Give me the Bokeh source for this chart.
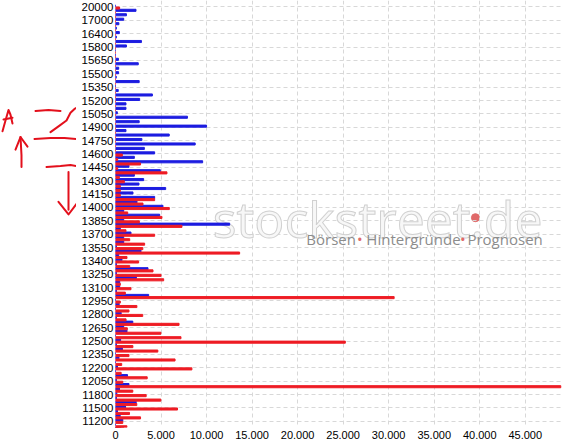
from bokeh.plotting import figure
from bokeh.models import Range1d, FixedTicker, ColumnDataSource, Label
from bokeh.layouts import row
from bokeh.transform import dodge
from bokeh.embed import file_html
from bokeh.resources import INLINE

# strike prices, top to bottom
strikes = [20000, 19000, 18000, 17000, 16800, 16600, 16400, 16200, 16000,
           15800, 15750, 15700, 15650, 15600, 15550, 15500, 15450, 15400, 15350,
           15300, 15250, 15200, 15150, 15100, 15050, 15000, 14950, 14900, 14850,
           14800, 14750, 14700, 14650, 14600, 14550, 14500, 14450, 14400, 14350,
           14300, 14250, 14200, 14150, 14100, 14050, 14000, 13950, 13900, 13850,
           13800, 13750, 13700, 13650, 13600, 13550, 13500, 13450, 13400, 13350,
           13300, 13250, 13200, 13150, 13100, 13050, 13000, 12950, 12900, 12850,
           12800, 12750, 12700, 12650, 12600, 12550, 12500, 12450, 12400, 12350,
           12300, 12250, 12200, 12150, 12100, 12050, 12000, 11900, 11800, 11700,
           11600, 11500, 11400, 11300, 11200, 11100, 11000, 10000]

# blue series (calls)
calls = [0, 2250, 1200, 900, 370, 90, 420, 90, 2850,
         1200, 0, 0, 320, 2500, 350, 340, 80, 2600, 0,
         300, 4050, 2650, 1150, 1150, 200, 7900, 2600, 10000, 1150,
         5900, 2900, 8750, 3170, 4300, 2070, 9570, 1480, 4920, 2070,
         3090, 2580, 5510, 1920, 4300, 2360, 5210, 900, 4850, 900,
         12540, 530, 1700, 900, 900, 100, 2800, 350, 710, 100,
         3570, 100, 2290, 460, 460, 100, 3640, 0, 400, 0,
         620, 100, 1900, 900, 1260, 0, 560, 100, 760, 0,
         380, 0, 220, 0, 1320, 100, 1480, 440, 150, 100,
         2270, 1100, 220, 510, 800, 0, 300, 0]

# red series (puts)
puts = [450, 0, 0, 0, 0, 0, 0, 0, 0,
        0, 0, 0, 0, 0, 0, 0, 0, 0, 0,
        0, 0, 0, 0, 0, 0, 0, 0, 0, 0,
        0, 0, 0, 0, 750, 240, 2750, 240, 5650, 420,
        970, 530, 530, 530, 4300, 3020, 5910, 1340, 5100, 2620,
        7300, 1150, 4300, 1560, 3200, 3000, 13630, 1260, 2540, 1560,
        4120, 5000, 5290, 530, 1700, 1080, 30600, 530, 2350, 1480,
        2990, 1160, 6980, 1300, 4990, 7190, 25240, 1910, 4650, 1480,
        6540, 680, 8390, 620, 3480, 800, 48900, 1900, 3370, 4980,
        2340, 6810, 1540, 2750, 800, 1250, 900, 600]

x_ticks = [0, 5000, 10000, 15000, 20000, 25000, 30000, 35000, 40000, 45000]

idx = list(range(len(strikes)))
src = ColumnDataSource(data=dict(k=idx, strike=strikes, calls=calls, puts=puts))

LEFT_W = 76
p = figure(width=577 - LEFT_W, height=441, output_backend="svg", toolbar_location=None,
           x_range=Range1d(0, 49200), y_range=Range1d(start=94.4, end=-1.45),
           min_border_left=115 - LEFT_W, min_border_right=14, min_border_top=0,
           min_border_bottom=2, outline_line_color=None, background_fill_color="white")

# watermark (behind bars)
p.add_layout(Label(x=46890, y=47.6, text="stockstreet.de", text_align="right",
                   text_baseline="alphabetic", text_font="Open Sans", text_font_size="50px",
                   text_color="#f7f7f7", text_outline_color="#d0d0d0", level="underlay"))
p.scatter(x=[39530], y=[47.3], size=8, color="#e06a6a", level="underlay")
for txt, xv, col, align in [("Börsen", 20960, "#8c8c8c", "left"),
                            ("•", 26840, "#e06a6a", "center"),
                            ("Hintergründe", 27550, "#8c8c8c", "left"),
                            ("•", 38150, "#e06a6a", "center"),
                            ("Prognosen", 38650, "#8c8c8c", "left")]:
    p.add_layout(Label(x=xv, y=52.1, text=txt, text_align=align, text_baseline="middle",
                       text_font="Open Sans", text_font_size="15px", text_color=col,
                       level="underlay"))

p.hbar(y=dodge('k', -0.245, range=p.y_range), left=0, right='calls', height=0.47,
       source=src, color="#1c1ce0")
p.hbar(y=dodge('k', 0.245, range=p.y_range), left=0, right='puts', height=0.47,
       source=src, color="#ee1c24")

# axes
p.xaxis.ticker = FixedTicker(ticks=x_ticks)
p.xaxis.major_label_overrides = {t: (f"{t:,}".replace(",", ".")) for t in x_ticks}
p.yaxis.ticker = FixedTicker(ticks=idx[::3])
p.yaxis.major_label_overrides = {i: str(strikes[i]) for i in idx[::3]}
for ax in (p.xaxis, p.yaxis):
    ax.axis_line_color = None
    ax.major_tick_line_color = None
    ax.minor_tick_line_color = None
    ax.major_tick_out = 0
    ax.major_tick_in = 0
    ax.minor_tick_out = 0
    ax.minor_tick_in = 0
    ax.major_label_text_font = "Liberation Sans"
    ax.major_label_text_color = "#000000"
p.yaxis.major_label_text_font_size = "11.5px"
p.xaxis.major_label_text_font_size = "11px"
p.yaxis.major_label_standoff = 2
p.xaxis.major_label_standoff = 3

p.xgrid.ticker = FixedTicker(ticks=x_ticks)
p.ygrid.ticker = FixedTicker(ticks=idx[::3])
for g in (p.xgrid, p.ygrid):
    g.grid_line_color = "#d8d8d8"
    g.grid_line_dash = "4 3"
    g.grid_line_width = 1

# hand-drawn marker strokes in the left margin (pixel positions)
strokes = [
    [(2, 135), (5, 124), (8, 113), (10, 118), (12, 127)],
    [(3, 123), (12, 121)],
    [(35, 114), (48, 113), (60, 114)],
    [(50, 136), (58, 130), (66, 124), (70, 116), (74, 112), (76, 111)],
    [(34, 143), (50, 142), (64, 142), (76, 143)],
    [(21, 172), (21, 160), (20, 141)],
    [(15, 154), (20, 141), (27, 151)],
    [(46, 172), (60, 171), (70, 170), (76, 171)],
    [(68, 177), (68, 195), (68, 216)],
    [(58, 208), (68, 221), (76, 210)],
]
m = figure(width=LEFT_W, height=441, output_backend="svg", toolbar_location=None,
           x_range=Range1d(0, LEFT_W), y_range=Range1d(441, 0), x_axis_type=None,
           y_axis_type=None, min_border=0, outline_line_color=None)
m.grid.visible = False
m.multi_line(xs=[[q[0] for q in s] for s in strokes], ys=[[q[1] for q in s] for s in strokes],
             line_color="#e3101c", line_width=2, line_cap="round", line_join="round")

layout = row(m, p)
open("out.html", "w").write(file_html(layout, INLINE))
